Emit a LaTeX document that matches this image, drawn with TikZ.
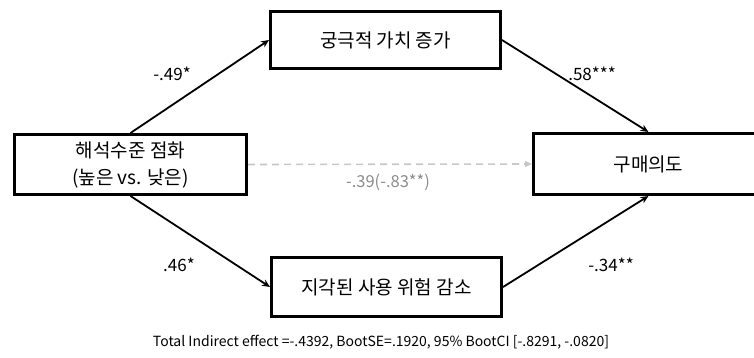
\documentclass[tikz,border=0pt]{standalone}
\usepackage{fontspec}
\setmainfont{Noto Sans CJK KR}
\usetikzlibrary{arrows.meta}
\begin{document}
\begin{tikzpicture}[x=1pt,y=-1pt,
  box/.style={draw=black,line width=3pt,fill=white,font=\fontsize{19}{27}\selectfont,align=center,inner sep=0pt},
  path/.style={draw=black,line width=1.8pt,-{Stealth[length=8pt,width=7pt]}},
  direct/.style={draw=black!22,line width=1.6pt,dash pattern=on 7pt off 5pt,-{Triangle[length=7pt,width=6pt]}},
  coef/.style={font=\fontsize{17}{20}\selectfont,text=black},
  note/.style={font=\fontsize{14}{16}\selectfont,text=black}]
\useasboundingbox (0,0) rectangle (754,357);
\node[box,minimum width=232pt,minimum height=60pt] (L) at (130.5,164.5) {해석수준 점화\\(높은 vs. 낮은)};
\node[box,minimum width=230pt,minimum height=57pt] (T) at (385.5,40) {궁극적 가치 증가};
\node[box,minimum width=230pt,minimum height=59pt] (B) at (386.5,287) {지각된 사용 위험 감소};
\node[box,minimum width=230pt,minimum height=61pt] (R) at (648.5,164) {구매의도};
\draw[path] (L.north) -- (T.west);
\draw[path] (T.east) -- (R.north);
\draw[path] (L.south) -- (B.west);
\draw[path] (B.east) -- (R.south);
\draw[direct] (L.east) -- (R.west);
\node[coef] (a1) at (172,74) {-.49*};
\node[coef] (b1) at (592,74) {.58***};
\node[coef] (a2) at (179,265) {.46*};
\node[coef] (b2) at (611,265) {-.34**};
\node[coef,font=\fontsize{16.5}{20}\selectfont,text=black!45] (c) at (388,182) {-.39(-.83**)};
\node[note] (tot) at (381,342) {Total Indirect effect =-.4392, BootSE=.1920, 95\% BootCI [-.8291, -.0820]};
\end{tikzpicture}
\end{document}
